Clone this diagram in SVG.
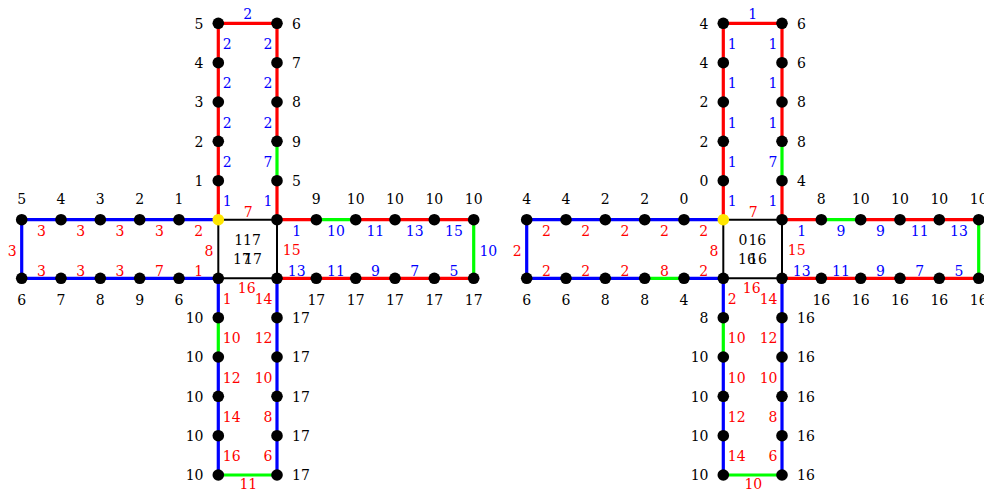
<svg xmlns="http://www.w3.org/2000/svg" width="984" height="489" viewBox="0 0 984 489">
<style>
.n{fill:#000}
.ny{fill:#ffe600}
.e{stroke-width:3.2;fill:none}
.r{stroke:#ff0000}.b{stroke:#0000ff}.g{stroke:#00ff00}
.k{stroke:#000;stroke-width:2;fill:none}
text{font-family:"DejaVu Serif","Liberation Serif",serif;font-size:14px}
.t{fill:#000}.tr{fill:#ff0000}.tb{fill:#0000ff}
.s{text-anchor:start}.m{text-anchor:middle}.en{text-anchor:end}
</style>
<rect width="984" height="489" fill="#fff"/>

<!-- ================= LEFT FIGURE ================= -->
<g id="fig-a">
<g id="a-connectors">
<path class="e r" d="M218.3 23.3H277"/>
<path class="e r" d="M218.3 23.3V62.7"/>
<path class="e r" d="M218.3 62.7V102"/>
<path class="e r" d="M218.3 102V141.3"/>
<path class="e r" d="M218.3 141.3V180.7"/>
<path class="e r" d="M218.3 180.7V219.7"/>
<path class="e r" d="M277 23.3V62.7"/>
<path class="e r" d="M277 62.7V102"/>
<path class="e r" d="M277 102V141.3"/>
<path class="e g" d="M277 141.3V180.7"/>
<path class="e r" d="M277 180.7V219.7"/>
<path class="e b" d="M21.7 219.7H61"/>
<path class="e b" d="M61 219.7H100.3"/>
<path class="e b" d="M100.3 219.7H139.7"/>
<path class="e b" d="M139.7 219.7H179"/>
<path class="e b" d="M179 219.7H218.3"/>
<path class="e b" d="M21.7 219.7V278.3"/>
<path class="e b" d="M21.7 278.3H61"/>
<path class="e b" d="M61 278.3H100.3"/>
<path class="e b" d="M100.3 278.3H139.7"/>
<path class="e b" d="M139.7 278.3H179"/>
<path class="e b" d="M179 278.3H218.3"/>
<path class="k" d="M218.3 219.7H277"/>
<path class="k" d="M277 219.7V278.3"/>
<path class="k" d="M218.3 278.3H277"/>
<path class="k" d="M218.3 219.7V278.3"/>
<path class="e r" d="M277 219.7H316.3"/>
<path class="e g" d="M316.3 219.7H355.7"/>
<path class="e r" d="M355.7 219.7H395"/>
<path class="e r" d="M395 219.7H434.3"/>
<path class="e r" d="M434.3 219.7H473.7"/>
<path class="e g" d="M473.7 219.7V278.3"/>
<path class="e r" d="M277 278.3H316.3"/>
<path class="e r" d="M316.3 278.3H355.7"/>
<path class="e r" d="M355.7 278.3H395"/>
<path class="e r" d="M395 278.3H434.3"/>
<path class="e r" d="M434.3 278.3H473.7"/>
<path class="e b" d="M218.3 278.3V317.7"/>
<path class="e g" d="M218.3 317.7V357"/>
<path class="e b" d="M218.3 357V396.3"/>
<path class="e b" d="M218.3 396.3V435.7"/>
<path class="e b" d="M218.3 435.7V475"/>
<path class="e b" d="M277 278.3V317.7"/>
<path class="e b" d="M277 317.7V357"/>
<path class="e b" d="M277 357V396.3"/>
<path class="e b" d="M277 396.3V435.7"/>
<path class="e b" d="M277 435.7V475"/>
<path class="e g" d="M218.3 475H277"/>
</g>
<g id="a-edge-labels">
<text class="tb m" x="247.7" y="19.3">2</text>
<text class="tb s" x="222.8" y="49">2</text>
<text class="tb s" x="222.8" y="88.4">2</text>
<text class="tb s" x="222.8" y="127.7">2</text>
<text class="tb s" x="222.8" y="167">2</text>
<text class="tb s" x="222.8" y="206">1</text>
<text class="tb en" x="272.5" y="49">2</text>
<text class="tb en" x="272.5" y="88.4">2</text>
<text class="tb en" x="272.5" y="127.7">2</text>
<text class="tb en" x="272.5" y="167">7</text>
<text class="tb en" x="272.5" y="206">1</text>
<text class="tr m" x="41.35" y="235.7">3</text>
<text class="tr m" x="80.65" y="235.7">3</text>
<text class="tr m" x="120" y="235.7">3</text>
<text class="tr m" x="159.35" y="235.7">3</text>
<text class="tr m" x="198.65" y="235.7">2</text>
<text class="tr m" x="12.3" y="255.7">3</text>
<text class="tr m" x="41.35" y="275.7">3</text>
<text class="tr m" x="80.65" y="275.7">3</text>
<text class="tr m" x="120" y="275.7">3</text>
<text class="tr m" x="159.35" y="275.7">7</text>
<text class="tr m" x="198.65" y="275.7">1</text>
<text class="tr m" x="209" y="255.7">8</text>
<text class="tr m" x="248.3" y="216.7">7</text>
<text class="tr m" x="291.7" y="255.3">15</text>
<text class="tr m" x="246.7" y="292.5">16</text>
<text class="tb m" x="296.65" y="235.7">1</text>
<text class="tb m" x="336" y="235.7">10</text>
<text class="tb m" x="375.35" y="235.7">11</text>
<text class="tb m" x="414.65" y="235.7">13</text>
<text class="tb m" x="454" y="235.7">15</text>
<text class="tb m" x="488.3" y="255.7">10</text>
<text class="tb m" x="296.65" y="275.7">13</text>
<text class="tb m" x="336" y="275.7">11</text>
<text class="tb m" x="375.35" y="275.7">9</text>
<text class="tb m" x="414.65" y="275.7">7</text>
<text class="tb m" x="454" y="275.7">5</text>
<text class="tr s" x="222.8" y="304.3">1</text>
<text class="tr s" x="222.8" y="343.4">10</text>
<text class="tr s" x="222.8" y="382.7">12</text>
<text class="tr s" x="222.8" y="422">14</text>
<text class="tr s" x="222.8" y="461.4">16</text>
<text class="tr en" x="272.5" y="304.3">14</text>
<text class="tr en" x="272.5" y="343.4">12</text>
<text class="tr en" x="272.5" y="382.7">10</text>
<text class="tr en" x="272.5" y="422">8</text>
<text class="tr en" x="272.5" y="461.4">6</text>
<text class="tr m" x="248.3" y="489">11</text>
</g>
<g id="a-nodes">
<g id="a-top-l1"><circle class="n" cx="218.3" cy="23.3" r="5.8"/><text class="t en" x="203.5" y="28.6">5</text></g>
<g id="a-top-l2"><circle class="n" cx="218.3" cy="62.7" r="5.8"/><text class="t en" x="203.5" y="68">4</text></g>
<g id="a-top-l3"><circle class="n" cx="218.3" cy="102" r="5.8"/><text class="t en" x="203.5" y="107.3">3</text></g>
<g id="a-top-l4"><circle class="n" cx="218.3" cy="141.3" r="5.8"/><text class="t en" x="203.5" y="146.6">2</text></g>
<g id="a-top-l5"><circle class="n" cx="218.3" cy="180.7" r="5.8"/><text class="t en" x="203.5" y="186">1</text></g>
<g id="a-top-r1"><circle class="n" cx="277" cy="23.3" r="5.8"/><text class="t s" x="292" y="28.6">6</text></g>
<g id="a-top-r2"><circle class="n" cx="277" cy="62.7" r="5.8"/><text class="t s" x="292" y="68">7</text></g>
<g id="a-top-r3"><circle class="n" cx="277" cy="102" r="5.8"/><text class="t s" x="292" y="107.3">8</text></g>
<g id="a-top-r4"><circle class="n" cx="277" cy="141.3" r="5.8"/><text class="t s" x="292" y="146.6">9</text></g>
<g id="a-top-r5"><circle class="n" cx="277" cy="180.7" r="5.8"/><text class="t s" x="292" y="186">5</text></g>
<g id="a-left-t1"><circle class="n" cx="21.7" cy="219.7" r="5.8"/><text class="t m" x="21.7" y="204.3">5</text></g>
<g id="a-left-t2"><circle class="n" cx="61" cy="219.7" r="5.8"/><text class="t m" x="61" y="204.3">4</text></g>
<g id="a-left-t3"><circle class="n" cx="100.3" cy="219.7" r="5.8"/><text class="t m" x="100.3" y="204.3">3</text></g>
<g id="a-left-t4"><circle class="n" cx="139.7" cy="219.7" r="5.8"/><text class="t m" x="139.7" y="204.3">2</text></g>
<g id="a-left-t5"><circle class="n" cx="179" cy="219.7" r="5.8"/><text class="t m" x="179" y="204.3">1</text></g>
<g id="a-left-b1"><circle class="n" cx="21.7" cy="278.3" r="5.8"/><text class="t m" x="21.7" y="305.3">6</text></g>
<g id="a-left-b2"><circle class="n" cx="61" cy="278.3" r="5.8"/><text class="t m" x="61" y="305.3">7</text></g>
<g id="a-left-b3"><circle class="n" cx="100.3" cy="278.3" r="5.8"/><text class="t m" x="100.3" y="305.3">8</text></g>
<g id="a-left-b4"><circle class="n" cx="139.7" cy="278.3" r="5.8"/><text class="t m" x="139.7" y="305.3">9</text></g>
<g id="a-left-b5"><circle class="n" cx="179" cy="278.3" r="5.8"/><text class="t m" x="179" y="305.3">6</text></g>
<g id="a-right-t1"><circle class="n" cx="316.3" cy="219.7" r="5.8"/><text class="t m" x="316.3" y="204.3">9</text></g>
<g id="a-right-t2"><circle class="n" cx="355.7" cy="219.7" r="5.8"/><text class="t m" x="355.7" y="204.3">10</text></g>
<g id="a-right-t3"><circle class="n" cx="395" cy="219.7" r="5.8"/><text class="t m" x="395" y="204.3">10</text></g>
<g id="a-right-t4"><circle class="n" cx="434.3" cy="219.7" r="5.8"/><text class="t m" x="434.3" y="204.3">10</text></g>
<g id="a-right-t5"><circle class="n" cx="473.7" cy="219.7" r="5.8"/><text class="t m" x="473.7" y="204.3">10</text></g>
<g id="a-right-b1"><circle class="n" cx="316.3" cy="278.3" r="5.8"/><text class="t m" x="316.3" y="305.3">17</text></g>
<g id="a-right-b2"><circle class="n" cx="355.7" cy="278.3" r="5.8"/><text class="t m" x="355.7" y="305.3">17</text></g>
<g id="a-right-b3"><circle class="n" cx="395" cy="278.3" r="5.8"/><text class="t m" x="395" y="305.3">17</text></g>
<g id="a-right-b4"><circle class="n" cx="434.3" cy="278.3" r="5.8"/><text class="t m" x="434.3" y="305.3">17</text></g>
<g id="a-right-b5"><circle class="n" cx="473.7" cy="278.3" r="5.8"/><text class="t m" x="473.7" y="305.3">17</text></g>
<g id="a-bot-l1"><circle class="n" cx="218.3" cy="317.7" r="5.8"/><text class="t en" x="203.5" y="323">10</text></g>
<g id="a-bot-l2"><circle class="n" cx="218.3" cy="357" r="5.8"/><text class="t en" x="203.5" y="362.3">10</text></g>
<g id="a-bot-l3"><circle class="n" cx="218.3" cy="396.3" r="5.8"/><text class="t en" x="203.5" y="401.6">10</text></g>
<g id="a-bot-l4"><circle class="n" cx="218.3" cy="435.7" r="5.8"/><text class="t en" x="203.5" y="441">10</text></g>
<g id="a-bot-l5"><circle class="n" cx="218.3" cy="475" r="5.8"/><text class="t en" x="203.5" y="480.3">10</text></g>
<g id="a-bot-r1"><circle class="n" cx="277" cy="317.7" r="5.8"/><text class="t s" x="292" y="323">17</text></g>
<g id="a-bot-r2"><circle class="n" cx="277" cy="357" r="5.8"/><text class="t s" x="292" y="362.3">17</text></g>
<g id="a-bot-r3"><circle class="n" cx="277" cy="396.3" r="5.8"/><text class="t s" x="292" y="401.6">17</text></g>
<g id="a-bot-r4"><circle class="n" cx="277" cy="435.7" r="5.8"/><text class="t s" x="292" y="441">17</text></g>
<g id="a-bot-r5"><circle class="n" cx="277" cy="475" r="5.8"/><text class="t s" x="292" y="480.3">17</text></g>
<g id="a-c-tl"><circle class="ny" cx="218.3" cy="219.7" r="5.8"/></g>
<g id="a-c-tr"><circle class="n" cx="277" cy="219.7" r="5.8"/></g>
<g id="a-c-bl"><circle class="n" cx="218.3" cy="278.3" r="5.8"/></g>
<g id="a-c-br"><circle class="n" cx="277" cy="278.3" r="5.8"/></g>
</g>
<g id="a-center-labels">
<text class="t m" x="238.7" y="245">1</text>
<text class="t m" x="252" y="245">17</text>
<text class="t m" x="242" y="264.3">17</text>
<text class="t m" x="253" y="264.3">17</text>
</g>
</g>

<!-- ================= RIGHT FIGURE ================= -->
<g id="fig-b" transform="translate(505,0)">
<g id="b-connectors">
<path class="e r" d="M218.3 23.3H277"/>
<path class="e r" d="M218.3 23.3V62.7"/>
<path class="e r" d="M218.3 62.7V102"/>
<path class="e r" d="M218.3 102V141.3"/>
<path class="e r" d="M218.3 141.3V180.7"/>
<path class="e r" d="M218.3 180.7V219.7"/>
<path class="e r" d="M277 23.3V62.7"/>
<path class="e r" d="M277 62.7V102"/>
<path class="e r" d="M277 102V141.3"/>
<path class="e g" d="M277 141.3V180.7"/>
<path class="e r" d="M277 180.7V219.7"/>
<path class="e b" d="M21.7 219.7H61"/>
<path class="e b" d="M61 219.7H100.3"/>
<path class="e b" d="M100.3 219.7H139.7"/>
<path class="e b" d="M139.7 219.7H179"/>
<path class="e b" d="M179 219.7H218.3"/>
<path class="e b" d="M21.7 219.7V278.3"/>
<path class="e b" d="M21.7 278.3H61"/>
<path class="e b" d="M61 278.3H100.3"/>
<path class="e b" d="M100.3 278.3H139.7"/>
<path class="e g" d="M139.7 278.3H179"/>
<path class="e b" d="M179 278.3H218.3"/>
<path class="k" d="M218.3 219.7H277"/>
<path class="k" d="M277 219.7V278.3"/>
<path class="k" d="M218.3 278.3H277"/>
<path class="k" d="M218.3 219.7V278.3"/>
<path class="e r" d="M277 219.7H316.3"/>
<path class="e g" d="M316.3 219.7H355.7"/>
<path class="e r" d="M355.7 219.7H395"/>
<path class="e r" d="M395 219.7H434.3"/>
<path class="e r" d="M434.3 219.7H473.7"/>
<path class="e g" d="M473.7 219.7V278.3"/>
<path class="e r" d="M277 278.3H316.3"/>
<path class="e r" d="M316.3 278.3H355.7"/>
<path class="e r" d="M355.7 278.3H395"/>
<path class="e r" d="M395 278.3H434.3"/>
<path class="e r" d="M434.3 278.3H473.7"/>
<path class="e b" d="M218.3 278.3V317.7"/>
<path class="e g" d="M218.3 317.7V357"/>
<path class="e b" d="M218.3 357V396.3"/>
<path class="e b" d="M218.3 396.3V435.7"/>
<path class="e b" d="M218.3 435.7V475"/>
<path class="e b" d="M277 278.3V317.7"/>
<path class="e b" d="M277 317.7V357"/>
<path class="e b" d="M277 357V396.3"/>
<path class="e b" d="M277 396.3V435.7"/>
<path class="e b" d="M277 435.7V475"/>
<path class="e g" d="M218.3 475H277"/>
</g>
<g id="b-edge-labels">
<text class="tb m" x="247.7" y="19.3">1</text>
<text class="tb s" x="222.8" y="49">1</text>
<text class="tb s" x="222.8" y="88.4">1</text>
<text class="tb s" x="222.8" y="127.7">1</text>
<text class="tb s" x="222.8" y="167">1</text>
<text class="tb s" x="222.8" y="206">1</text>
<text class="tb en" x="272.5" y="49">1</text>
<text class="tb en" x="272.5" y="88.4">1</text>
<text class="tb en" x="272.5" y="127.7">1</text>
<text class="tb en" x="272.5" y="167">7</text>
<text class="tb en" x="272.5" y="206">1</text>
<text class="tr m" x="41.35" y="235.7">2</text>
<text class="tr m" x="80.65" y="235.7">2</text>
<text class="tr m" x="120" y="235.7">2</text>
<text class="tr m" x="159.35" y="235.7">2</text>
<text class="tr m" x="198.65" y="235.7">2</text>
<text class="tr m" x="12.3" y="255.7">2</text>
<text class="tr m" x="41.35" y="275.7">2</text>
<text class="tr m" x="80.65" y="275.7">2</text>
<text class="tr m" x="120" y="275.7">2</text>
<text class="tr m" x="159.35" y="275.7">8</text>
<text class="tr m" x="198.65" y="275.7">2</text>
<text class="tr m" x="209" y="255.7">8</text>
<text class="tr m" x="248.3" y="216.7">7</text>
<text class="tr m" x="291.7" y="255.3">15</text>
<text class="tr m" x="246.7" y="292.5">16</text>
<text class="tb m" x="296.65" y="235.7">1</text>
<text class="tb m" x="336" y="235.7">9</text>
<text class="tb m" x="375.35" y="235.7">9</text>
<text class="tb m" x="414.65" y="235.7">11</text>
<text class="tb m" x="454" y="235.7">13</text>
<text class="tb m" x="296.65" y="275.7">13</text>
<text class="tb m" x="336" y="275.7">11</text>
<text class="tb m" x="375.35" y="275.7">9</text>
<text class="tb m" x="414.65" y="275.7">7</text>
<text class="tb m" x="454" y="275.7">5</text>
<text class="tr s" x="222.8" y="304.3">2</text>
<text class="tr s" x="222.8" y="343.4">10</text>
<text class="tr s" x="222.8" y="382.7">10</text>
<text class="tr s" x="222.8" y="422">12</text>
<text class="tr s" x="222.8" y="461.4">14</text>
<text class="tr en" x="272.5" y="304.3">14</text>
<text class="tr en" x="272.5" y="343.4">12</text>
<text class="tr en" x="272.5" y="382.7">10</text>
<text class="tr en" x="272.5" y="422">8</text>
<text class="tr en" x="272.5" y="461.4">6</text>
<text class="tr m" x="248.3" y="489">10</text>
</g>
<g id="b-nodes">
<g id="b-top-l1"><circle class="n" cx="218.3" cy="23.3" r="5.8"/><text class="t en" x="203.5" y="28.6">4</text></g>
<g id="b-top-l2"><circle class="n" cx="218.3" cy="62.7" r="5.8"/><text class="t en" x="203.5" y="68">4</text></g>
<g id="b-top-l3"><circle class="n" cx="218.3" cy="102" r="5.8"/><text class="t en" x="203.5" y="107.3">2</text></g>
<g id="b-top-l4"><circle class="n" cx="218.3" cy="141.3" r="5.8"/><text class="t en" x="203.5" y="146.6">2</text></g>
<g id="b-top-l5"><circle class="n" cx="218.3" cy="180.7" r="5.8"/><text class="t en" x="203.5" y="186">0</text></g>
<g id="b-top-r1"><circle class="n" cx="277" cy="23.3" r="5.8"/><text class="t s" x="292" y="28.6">6</text></g>
<g id="b-top-r2"><circle class="n" cx="277" cy="62.7" r="5.8"/><text class="t s" x="292" y="68">6</text></g>
<g id="b-top-r3"><circle class="n" cx="277" cy="102" r="5.8"/><text class="t s" x="292" y="107.3">8</text></g>
<g id="b-top-r4"><circle class="n" cx="277" cy="141.3" r="5.8"/><text class="t s" x="292" y="146.6">8</text></g>
<g id="b-top-r5"><circle class="n" cx="277" cy="180.7" r="5.8"/><text class="t s" x="292" y="186">4</text></g>
<g id="b-left-t1"><circle class="n" cx="21.7" cy="219.7" r="5.8"/><text class="t m" x="21.7" y="204.3">4</text></g>
<g id="b-left-t2"><circle class="n" cx="61" cy="219.7" r="5.8"/><text class="t m" x="61" y="204.3">4</text></g>
<g id="b-left-t3"><circle class="n" cx="100.3" cy="219.7" r="5.8"/><text class="t m" x="100.3" y="204.3">2</text></g>
<g id="b-left-t4"><circle class="n" cx="139.7" cy="219.7" r="5.8"/><text class="t m" x="139.7" y="204.3">2</text></g>
<g id="b-left-t5"><circle class="n" cx="179" cy="219.7" r="5.8"/><text class="t m" x="179" y="204.3">0</text></g>
<g id="b-left-b1"><circle class="n" cx="21.7" cy="278.3" r="5.8"/><text class="t m" x="21.7" y="305.3">6</text></g>
<g id="b-left-b2"><circle class="n" cx="61" cy="278.3" r="5.8"/><text class="t m" x="61" y="305.3">6</text></g>
<g id="b-left-b3"><circle class="n" cx="100.3" cy="278.3" r="5.8"/><text class="t m" x="100.3" y="305.3">8</text></g>
<g id="b-left-b4"><circle class="n" cx="139.7" cy="278.3" r="5.8"/><text class="t m" x="139.7" y="305.3">8</text></g>
<g id="b-left-b5"><circle class="n" cx="179" cy="278.3" r="5.8"/><text class="t m" x="179" y="305.3">4</text></g>
<g id="b-right-t1"><circle class="n" cx="316.3" cy="219.7" r="5.8"/><text class="t m" x="316.3" y="204.3">8</text></g>
<g id="b-right-t2"><circle class="n" cx="355.7" cy="219.7" r="5.8"/><text class="t m" x="355.7" y="204.3">10</text></g>
<g id="b-right-t3"><circle class="n" cx="395" cy="219.7" r="5.8"/><text class="t m" x="395" y="204.3">10</text></g>
<g id="b-right-t4"><circle class="n" cx="434.3" cy="219.7" r="5.8"/><text class="t m" x="434.3" y="204.3">10</text></g>
<g id="b-right-t5"><circle class="n" cx="473.7" cy="219.7" r="5.8"/><text class="t m" x="473.7" y="204.3">10</text></g>
<g id="b-right-b1"><circle class="n" cx="316.3" cy="278.3" r="5.8"/><text class="t m" x="316.3" y="305.3">16</text></g>
<g id="b-right-b2"><circle class="n" cx="355.7" cy="278.3" r="5.8"/><text class="t m" x="355.7" y="305.3">16</text></g>
<g id="b-right-b3"><circle class="n" cx="395" cy="278.3" r="5.8"/><text class="t m" x="395" y="305.3">16</text></g>
<g id="b-right-b4"><circle class="n" cx="434.3" cy="278.3" r="5.8"/><text class="t m" x="434.3" y="305.3">16</text></g>
<g id="b-right-b5"><circle class="n" cx="473.7" cy="278.3" r="5.8"/><text class="t m" x="473.7" y="305.3">16</text></g>
<g id="b-bot-l1"><circle class="n" cx="218.3" cy="317.7" r="5.8"/><text class="t en" x="203.5" y="323">8</text></g>
<g id="b-bot-l2"><circle class="n" cx="218.3" cy="357" r="5.8"/><text class="t en" x="203.5" y="362.3">10</text></g>
<g id="b-bot-l3"><circle class="n" cx="218.3" cy="396.3" r="5.8"/><text class="t en" x="203.5" y="401.6">10</text></g>
<g id="b-bot-l4"><circle class="n" cx="218.3" cy="435.7" r="5.8"/><text class="t en" x="203.5" y="441">10</text></g>
<g id="b-bot-l5"><circle class="n" cx="218.3" cy="475" r="5.8"/><text class="t en" x="203.5" y="480.3">10</text></g>
<g id="b-bot-r1"><circle class="n" cx="277" cy="317.7" r="5.8"/><text class="t s" x="292" y="323">16</text></g>
<g id="b-bot-r2"><circle class="n" cx="277" cy="357" r="5.8"/><text class="t s" x="292" y="362.3">16</text></g>
<g id="b-bot-r3"><circle class="n" cx="277" cy="396.3" r="5.8"/><text class="t s" x="292" y="401.6">16</text></g>
<g id="b-bot-r4"><circle class="n" cx="277" cy="435.7" r="5.8"/><text class="t s" x="292" y="441">16</text></g>
<g id="b-bot-r5"><circle class="n" cx="277" cy="475" r="5.8"/><text class="t s" x="292" y="480.3">16</text></g>
<g id="b-c-tl"><circle class="ny" cx="218.3" cy="219.7" r="5.8"/></g>
<g id="b-c-tr"><circle class="n" cx="277" cy="219.7" r="5.8"/></g>
<g id="b-c-bl"><circle class="n" cx="218.3" cy="278.3" r="5.8"/></g>
<g id="b-c-br"><circle class="n" cx="277" cy="278.3" r="5.8"/></g>
</g>
<g id="b-center-labels">
<text class="t m" x="238" y="245">0</text>
<text class="t m" x="252.3" y="245">16</text>
<text class="t m" x="242" y="264.3">16</text>
<text class="t m" x="253" y="264.3">16</text>
</g>
</g>
</svg>
